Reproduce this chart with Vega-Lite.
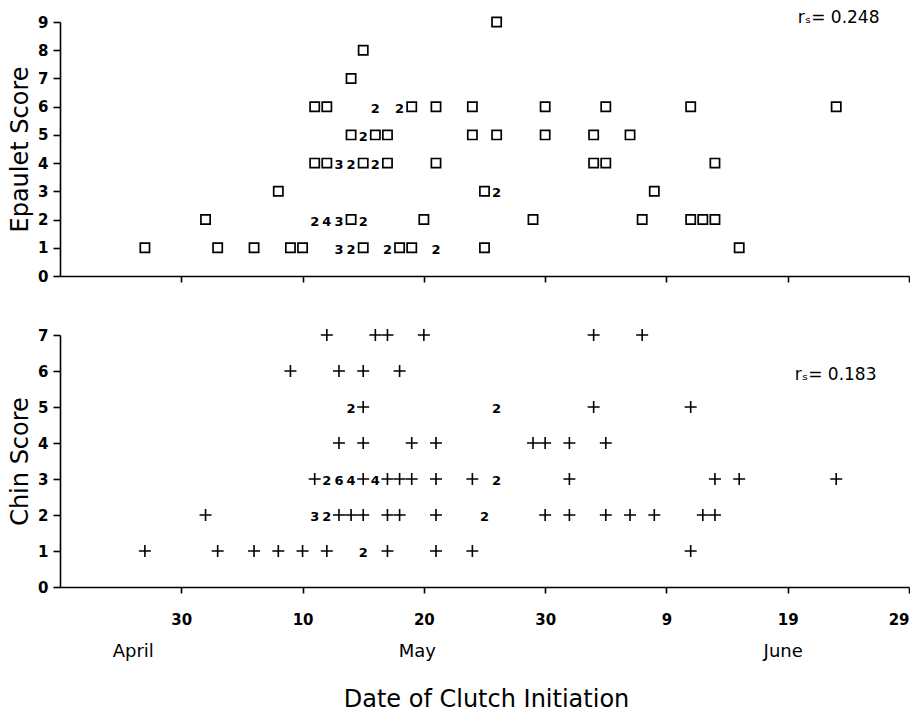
{
  "$schema": "https://vega.github.io/schema/vega-lite/v6.json",
  "padding": {"left": 8, "top": 9, "right": 0, "bottom": 0},
  "background": "white",
  "spacing": 41,
  "config": {
    "view": {"stroke": null},
    "font": "DejaVu Sans",
    "axis": {
      "grid": false,
      "domainColor": "black",
      "domainWidth": 1.6,
      "tickColor": "black",
      "tickWidth": 1.6,
      "labelColor": "black",
      "labelFont": "DejaVu Sans",
      "labelFontWeight": "bold",
      "labelFontSize": 15,
      "labelOverlap": false,
      "titleColor": "black",
      "titleFont": "DejaVu Sans",
      "titleFontWeight": "normal"
    }
  },
  "datasets": {
    "epaulet": [
      {"date": "1985-04-27", "score": 1, "n": 1},
      {"date": "1985-05-03", "score": 1, "n": 1},
      {"date": "1985-05-06", "score": 1, "n": 1},
      {"date": "1985-05-09", "score": 1, "n": 1},
      {"date": "1985-05-10", "score": 1, "n": 1},
      {"date": "1985-05-13", "score": 1, "n": 3},
      {"date": "1985-05-14", "score": 1, "n": 2},
      {"date": "1985-05-15", "score": 1, "n": 1},
      {"date": "1985-05-17", "score": 1, "n": 2},
      {"date": "1985-05-18", "score": 1, "n": 1},
      {"date": "1985-05-19", "score": 1, "n": 1},
      {"date": "1985-05-21", "score": 1, "n": 2},
      {"date": "1985-05-25", "score": 1, "n": 1},
      {"date": "1985-06-15", "score": 1, "n": 1},
      {"date": "1985-05-02", "score": 2, "n": 1},
      {"date": "1985-05-11", "score": 2, "n": 2},
      {"date": "1985-05-12", "score": 2, "n": 4},
      {"date": "1985-05-13", "score": 2, "n": 3},
      {"date": "1985-05-14", "score": 2, "n": 1},
      {"date": "1985-05-15", "score": 2, "n": 2},
      {"date": "1985-05-20", "score": 2, "n": 1},
      {"date": "1985-05-29", "score": 2, "n": 1},
      {"date": "1985-06-07", "score": 2, "n": 1},
      {"date": "1985-06-11", "score": 2, "n": 1},
      {"date": "1985-06-12", "score": 2, "n": 1},
      {"date": "1985-06-13", "score": 2, "n": 1},
      {"date": "1985-05-08", "score": 3, "n": 1},
      {"date": "1985-05-25", "score": 3, "n": 1},
      {"date": "1985-05-26", "score": 3, "n": 2},
      {"date": "1985-06-08", "score": 3, "n": 1},
      {"date": "1985-05-11", "score": 4, "n": 1},
      {"date": "1985-05-12", "score": 4, "n": 1},
      {"date": "1985-05-13", "score": 4, "n": 3},
      {"date": "1985-05-14", "score": 4, "n": 2},
      {"date": "1985-05-15", "score": 4, "n": 1},
      {"date": "1985-05-16", "score": 4, "n": 2},
      {"date": "1985-05-17", "score": 4, "n": 1},
      {"date": "1985-05-21", "score": 4, "n": 1},
      {"date": "1985-06-03", "score": 4, "n": 1},
      {"date": "1985-06-04", "score": 4, "n": 1},
      {"date": "1985-06-13", "score": 4, "n": 1},
      {"date": "1985-05-14", "score": 5, "n": 1},
      {"date": "1985-05-15", "score": 5, "n": 2},
      {"date": "1985-05-16", "score": 5, "n": 1},
      {"date": "1985-05-17", "score": 5, "n": 1},
      {"date": "1985-05-24", "score": 5, "n": 1},
      {"date": "1985-05-26", "score": 5, "n": 1},
      {"date": "1985-05-30", "score": 5, "n": 1},
      {"date": "1985-06-03", "score": 5, "n": 1},
      {"date": "1985-06-06", "score": 5, "n": 1},
      {"date": "1985-05-11", "score": 6, "n": 1},
      {"date": "1985-05-12", "score": 6, "n": 1},
      {"date": "1985-05-16", "score": 6, "n": 2},
      {"date": "1985-05-18", "score": 6, "n": 2},
      {"date": "1985-05-19", "score": 6, "n": 1},
      {"date": "1985-05-21", "score": 6, "n": 1},
      {"date": "1985-05-24", "score": 6, "n": 1},
      {"date": "1985-05-30", "score": 6, "n": 1},
      {"date": "1985-06-04", "score": 6, "n": 1},
      {"date": "1985-06-11", "score": 6, "n": 1},
      {"date": "1985-06-23", "score": 6, "n": 1},
      {"date": "1985-05-14", "score": 7, "n": 1},
      {"date": "1985-05-15", "score": 8, "n": 1},
      {"date": "1985-05-26", "score": 9, "n": 1}
    ],
    "chin": [
      {"date": "1985-04-27", "score": 1, "n": 1},
      {"date": "1985-05-03", "score": 1, "n": 1},
      {"date": "1985-05-06", "score": 1, "n": 1},
      {"date": "1985-05-08", "score": 1, "n": 1},
      {"date": "1985-05-10", "score": 1, "n": 1},
      {"date": "1985-05-12", "score": 1, "n": 1},
      {"date": "1985-05-15", "score": 1, "n": 2},
      {"date": "1985-05-17", "score": 1, "n": 1},
      {"date": "1985-05-21", "score": 1, "n": 1},
      {"date": "1985-05-24", "score": 1, "n": 1},
      {"date": "1985-06-11", "score": 1, "n": 1},
      {"date": "1985-05-02", "score": 2, "n": 1},
      {"date": "1985-05-11", "score": 2, "n": 3},
      {"date": "1985-05-12", "score": 2, "n": 2},
      {"date": "1985-05-13", "score": 2, "n": 1},
      {"date": "1985-05-14", "score": 2, "n": 1},
      {"date": "1985-05-15", "score": 2, "n": 1},
      {"date": "1985-05-17", "score": 2, "n": 1},
      {"date": "1985-05-18", "score": 2, "n": 1},
      {"date": "1985-05-21", "score": 2, "n": 1},
      {"date": "1985-05-25", "score": 2, "n": 2},
      {"date": "1985-05-30", "score": 2, "n": 1},
      {"date": "1985-06-01", "score": 2, "n": 1},
      {"date": "1985-06-04", "score": 2, "n": 1},
      {"date": "1985-06-06", "score": 2, "n": 1},
      {"date": "1985-06-08", "score": 2, "n": 1},
      {"date": "1985-06-12", "score": 2, "n": 1},
      {"date": "1985-06-13", "score": 2, "n": 1},
      {"date": "1985-05-11", "score": 3, "n": 1},
      {"date": "1985-05-12", "score": 3, "n": 2},
      {"date": "1985-05-13", "score": 3, "n": 6},
      {"date": "1985-05-14", "score": 3, "n": 4},
      {"date": "1985-05-15", "score": 3, "n": 1},
      {"date": "1985-05-16", "score": 3, "n": 4},
      {"date": "1985-05-17", "score": 3, "n": 1},
      {"date": "1985-05-18", "score": 3, "n": 1},
      {"date": "1985-05-19", "score": 3, "n": 1},
      {"date": "1985-05-21", "score": 3, "n": 1},
      {"date": "1985-05-24", "score": 3, "n": 1},
      {"date": "1985-05-26", "score": 3, "n": 2},
      {"date": "1985-06-01", "score": 3, "n": 1},
      {"date": "1985-06-13", "score": 3, "n": 1},
      {"date": "1985-06-15", "score": 3, "n": 1},
      {"date": "1985-06-23", "score": 3, "n": 1},
      {"date": "1985-05-13", "score": 4, "n": 1},
      {"date": "1985-05-15", "score": 4, "n": 1},
      {"date": "1985-05-19", "score": 4, "n": 1},
      {"date": "1985-05-21", "score": 4, "n": 1},
      {"date": "1985-05-29", "score": 4, "n": 1},
      {"date": "1985-05-30", "score": 4, "n": 1},
      {"date": "1985-06-01", "score": 4, "n": 1},
      {"date": "1985-06-04", "score": 4, "n": 1},
      {"date": "1985-05-14", "score": 5, "n": 2},
      {"date": "1985-05-15", "score": 5, "n": 1},
      {"date": "1985-05-26", "score": 5, "n": 2},
      {"date": "1985-06-03", "score": 5, "n": 1},
      {"date": "1985-06-11", "score": 5, "n": 1},
      {"date": "1985-05-09", "score": 6, "n": 1},
      {"date": "1985-05-13", "score": 6, "n": 1},
      {"date": "1985-05-15", "score": 6, "n": 1},
      {"date": "1985-05-18", "score": 6, "n": 1},
      {"date": "1985-05-12", "score": 7, "n": 1},
      {"date": "1985-05-16", "score": 7, "n": 1},
      {"date": "1985-05-17", "score": 7, "n": 1},
      {"date": "1985-05-20", "score": 7, "n": 1},
      {"date": "1985-06-03", "score": 7, "n": 1},
      {"date": "1985-06-07", "score": 7, "n": 1}
    ],
    "stats": [
      {"panel": "epaulet", "date": "1985-06-20", "score": 9.13, "label": "rₛ= 0.248"},
      {"panel": "chin", "date": "1985-06-20", "score": 5.9, "label": "rₛ= 0.183"}
    ]
  },
  "vconcat": [
    {
      "width": 849,
      "height": 254,
      "encoding": {
        "x": {
          "field": "date", "type": "temporal",
          "scale": {"type": "utc", "domain": [{"year": 1985, "month": 4, "date": 20, "utc": true}, {"year": 1985, "month": 6, "date": 29, "utc": true}]},
          "axis": {
            "title": null, "labels": false, "tickSize": 6,
            "values": [
              {"year": 1985, "month": 4, "date": 30, "utc": true},
              {"year": 1985, "month": 5, "date": 10, "utc": true},
              {"year": 1985, "month": 5, "date": 20, "utc": true},
              {"year": 1985, "month": 5, "date": 30, "utc": true},
              {"year": 1985, "month": 6, "date": 9, "utc": true},
              {"year": 1985, "month": 6, "date": 19, "utc": true},
              {"year": 1985, "month": 6, "date": 29, "utc": true}
            ]
          }
        },
        "y": {
          "field": "score", "type": "quantitative",
          "scale": {"domain": [0, 9], "nice": false, "zero": false},
          "axis": {"title": "Epaulet Score", "values": [0, 1, 2, 3, 4, 5, 6, 7, 8, 9], "tickCount": 10, "labelOverlap": false, "tickSize": 7, "labelPadding": 5, "titleFontSize": 24, "titlePadding": 5}
        }
      },
      "layer": [
        {
          "data": {"name": "epaulet"},
          "transform": [{"filter": "datum.n == 1"}],
          "mark": {"type": "point", "shape": "square", "size": 85, "filled": false, "stroke": "black", "strokeWidth": 1.7, "opacity": 1}
        },
        {
          "data": {"name": "epaulet"},
          "transform": [{"filter": "datum.n > 1"}],
          "mark": {"type": "text", "fontWeight": "bold", "fontSize": 13, "baseline": "middle", "dy": 2, "color": "black"},
          "encoding": {"text": {"field": "n", "type": "quantitative"}}
        },
        {
          "data": {"name": "stats"},
          "transform": [{"filter": "datum.panel == 'epaulet'"}],
          "mark": {"type": "text", "align": "left", "baseline": "middle", "fontSize": 17, "dx": -2, "color": "black"},
          "encoding": {"text": {"field": "label"}}
        }
      ]
    },
    {
      "width": 849,
      "height": 252,
      "resolve": {"axis": {"x": "independent"}},
      "encoding": {
        "x": {
          "field": "date", "type": "temporal",
          "scale": {"type": "utc", "domain": [{"year": 1985, "month": 4, "date": 20, "utc": true}, {"year": 1985, "month": 6, "date": 29, "utc": true}]},
          "axis": {
            "title": null, "tickSize": 6, "labelPadding": 19, "orient": "bottom",
            "labelExpr": "utcFormat(datum.value, '%-d')",
            "values": [
              {"year": 1985, "month": 4, "date": 30, "utc": true},
              {"year": 1985, "month": 5, "date": 10, "utc": true},
              {"year": 1985, "month": 5, "date": 20, "utc": true},
              {"year": 1985, "month": 5, "date": 30, "utc": true},
              {"year": 1985, "month": 6, "date": 9, "utc": true},
              {"year": 1985, "month": 6, "date": 19, "utc": true},
              {"year": 1985, "month": 6, "date": 29, "utc": true}
            ]
          }
        },
        "y": {
          "field": "score", "type": "quantitative",
          "scale": {"domain": [0, 7], "nice": false, "zero": false},
          "axis": {"title": "Chin Score", "values": [0, 1, 2, 3, 4, 5, 6, 7], "tickCount": 8, "labelOverlap": false, "tickSize": 7, "labelPadding": 5, "titleFontSize": 24, "titlePadding": 5}
        }
      },
      "layer": [
        {
          "data": {"name": "chin"},
          "transform": [{"filter": "datum.n == 1"}],
          "mark": {"type": "point", "shape": "M-1,0H1M0,-1V1", "size": 144, "filled": false, "stroke": "black", "strokeWidth": 1.6, "opacity": 1}
        },
        {
          "data": {"name": "chin"},
          "transform": [{"filter": "datum.n > 1"}],
          "mark": {"type": "text", "fontWeight": "bold", "fontSize": 13, "baseline": "middle", "dy": 2, "color": "black"},
          "encoding": {
            "x": {
              "field": "date", "type": "temporal",
              "axis": {
                "orient": "bottom", "domain": false, "ticks": false, "tickSize": 0,
                "labelPadding": 55, "labelFontSize": 18, "labelFontWeight": "normal",
                "labelExpr": "utcFormat(datum.value, '%B')",
                "values": [
                  {"year": 1985, "month": 4, "date": 26, "utc": true},
                  {"year": 1985, "month": 5, "date": 19, "hours": 10, "utc": true},
                  {"year": 1985, "month": 6, "date": 18, "hours": 14, "utc": true}
                ],
                "title": "Date of Clutch Initiation", "titleFontSize": 24, "titlePadding": 27, "titleX": 426
              }
            },
            "text": {"field": "n", "type": "quantitative"}
          }
        },
        {
          "data": {"name": "stats"},
          "transform": [{"filter": "datum.panel == 'chin'"}],
          "mark": {"type": "text", "align": "left", "baseline": "middle", "fontSize": 17, "dx": -5, "color": "black"},
          "encoding": {
            "x": {"field": "date", "type": "temporal", "axis": null},
            "text": {"field": "label"}
          }
        }
      ]
    }
  ]
}
